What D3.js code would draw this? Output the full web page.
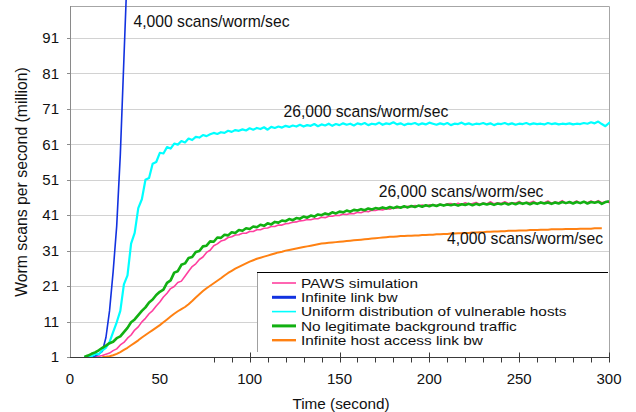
<!DOCTYPE html>
<html>
<head>
<meta charset="utf-8">
<script src="https://cdn.jsdelivr.net/npm/d3@7"></script>
<style>
  html, body { margin: 0; padding: 0; background: #fff; }
  svg { display: block; font-family: "Liberation Sans", Arial, sans-serif; }
</style>
</head>
<body>
<svg id="chart" width="636" height="412"></svg>
<script>
// ---- Data: worm scan rate (million scans/s), sampled every 2 seconds ----
const sampleStep = 2;

const seriesNames = [
  "PAWS simulation",
  "Infinite link bw",
  "Uniform distribution of vulnerable hosts",
  "No legitimate background traffic",
  "Infinite host access link bw"
];

// first sample time (s) of each series
const pawsStart = 14;
const infLinkStart = 10;
const uniformStart = 8;
const noBgStart = 8;
const infAccessStart = 18;

const pawsValues = [
  1.0, 1.2, 1.4, 1.8, 2.1, 2.8, 3.3, 4.4, 5.1, 6.3, 7.2, 8.6, 9.5, 10.9, 11.9, 13.2,
  14.1, 15.4, 16.5, 17.9, 19.0, 20.3, 20.9, 22.0, 22.4, 23.8, 25.2, 26.5, 27.3, 28.5,
  29.2, 30.5, 31.1, 32.4, 32.9, 33.7, 34.0, 34.7, 34.9, 35.4, 35.5, 35.9, 35.9, 36.4,
  36.4, 36.9, 36.9, 37.3, 37.4, 37.8, 37.8, 38.2, 38.2, 38.6, 38.7, 39.0, 39.1, 39.4,
  39.5, 39.8, 39.7, 40.0, 40.0, 40.4, 40.3, 40.7, 40.7, 41.0, 40.9, 41.3, 41.2, 41.5,
  41.4, 41.8, 41.7, 42.1, 42.0, 42.4, 42.3, 42.6, 42.5, 42.8, 42.7, 43.1, 43.0, 43.3,
  43.2, 43.5, 43.4, 43.7, 43.6, 43.9, 43.5, 43.9, 43.9, 43.7, 44.1, 43.8, 44.2, 44.3,
  43.9, 44.4, 44.0, 44.5, 44.1, 44.3, 44.6, 44.1, 44.4, 44.2, 44.8, 44.2, 44.5, 44.3,
  44.8, 44.3, 44.5, 44.4, 44.9, 44.3, 44.6, 44.5, 44.9, 44.3, 44.6, 44.5, 45.0, 44.4,
  44.7, 44.5, 45.1, 44.4, 44.6, 44.5, 45.0, 44.4, 44.8, 44.5, 45.0, 44.6, 45.1, 44.5,
  44.8, 44.6, 45.0, 44.8
];

const infLinkValues = [
  1.0, 1.05, 1.3, 1.8, 2.6, 6.5, 14, 25, 38, 58, 85, 112
];

const uniformValues = [
  1.0, 1.3, 1.2, 1.9, 1.8, 2.9, 3.6, 5.2, 8.0, 10.8, 14.0, 21.5, 24.0, 33.0, 36.0, 43.0,
  45.5, 51.0, 51.5, 55.5, 56.0, 58.6, 58.4, 60.2, 59.8, 61.2, 60.9, 61.9, 61.5, 62.6,
  62.2, 63.1, 62.9, 63.6, 63.3, 63.8, 64.2, 63.9, 64.4, 64.2, 64.8, 64.5, 65.0, 64.8,
  65.2, 64.9, 65.5, 65.1, 65.6, 65.3, 65.8, 65.1, 65.9, 65.6, 66.0, 65.7, 66.2, 65.9,
  66.3, 66.0, 66.5, 66.0, 66.4, 66.2, 66.7, 66.1, 66.6, 66.3, 66.8, 66.2, 66.7, 66.4,
  66.9, 66.5, 66.8, 66.3, 66.9, 66.6, 67.0, 66.4, 66.8, 66.6, 67.1, 66.5, 66.9, 66.7,
  67.2, 66.6, 66.9, 66.4, 66.8, 66.7, 67.0, 66.5, 66.9, 66.6, 67.1, 66.8, 66.5, 66.9,
  66.6, 67.0, 66.4, 66.8, 66.7, 67.1, 66.6, 66.9, 66.5, 66.8, 66.7, 67.0, 66.6, 66.9,
  66.4, 66.8, 66.7, 67.0, 66.6, 66.9, 66.5, 66.8, 66.7, 67.0, 66.6, 66.9, 66.7, 66.8,
  66.6, 67.0, 66.7, 66.9, 66.6, 66.8, 66.7, 66.9, 66.6, 66.8, 66.7, 67.0, 66.8, 67.2,
  66.9, 67.4, 66.7, 66.1, 67.0, 67.6
];

const noBgValues = [
  1.0, 1.4, 1.9, 2.3, 2.9, 3.6, 4.2, 4.9, 5.3, 6.3, 6.8, 8.0, 9.2, 10.8, 11.6, 12.8,
  14.0, 15.0, 16.4, 17.2, 18.5, 19.4, 20.0, 21.9, 22.6, 24.8, 25.2, 27.0, 27.4, 28.9,
  29.2, 30.6, 30.9, 32.2, 32.4, 33.6, 33.5, 34.7, 34.6, 35.5, 35.3, 36.2, 36.0, 36.8,
  36.6, 37.3, 37.1, 37.8, 37.6, 38.3, 38.0, 38.7, 38.4, 39.1, 38.9, 39.5, 39.3, 39.9,
  39.6, 40.2, 40.0, 40.6, 40.3, 40.9, 40.6, 41.2, 41.0, 41.5, 41.2, 41.8, 41.5, 42.0,
  41.8, 42.3, 42.0, 42.5, 42.3, 42.7, 42.4, 42.9, 42.6, 43.0, 42.8, 43.2, 42.9, 43.3,
  43.0, 43.4, 43.1, 43.5, 43.2, 43.6, 43.3, 43.7, 43.4, 43.8, 43.5, 43.9, 43.6, 44.0,
  43.7, 44.0, 43.8, 44.1, 43.7, 44.1, 43.9, 44.2, 43.8, 44.2, 43.9, 44.3, 44.0, 44.3,
  43.9, 44.3, 44.1, 44.4, 44.0, 44.4, 44.1, 44.5, 44.2, 44.5, 44.1, 44.5, 44.2, 44.6,
  44.3, 44.6, 44.2, 44.6, 44.3, 44.7, 44.4, 44.7, 44.3, 44.7, 44.4, 44.8, 44.3, 44.7,
  44.5, 44.8, 44.2, 44.7, 44.9
];

const infAccessValues = [
  1.0, 1.05, 1.2, 1.5, 1.9, 2.4, 3.0, 3.6, 4.3, 5.0, 5.7, 6.5, 7.2, 7.9, 8.6, 9.3,
  10.0, 10.8, 11.6, 12.4, 13.2, 13.9, 14.5, 15.1, 15.9, 16.8, 17.8, 18.7, 19.6, 20.4,
  21.1, 21.8, 22.5, 23.2, 24.0, 24.7, 25.3, 25.9, 26.4, 26.9, 27.4, 27.9, 28.3, 28.7,
  29.0, 29.3, 29.6, 29.9, 30.2, 30.5, 30.7, 31.0, 31.2, 31.4, 31.6, 31.8, 32.0, 32.2,
  32.4, 32.6, 32.8, 33.0, 33.1, 33.2, 33.3, 33.4, 33.5, 33.6, 33.7, 33.8, 33.9, 34.0,
  34.1, 34.2, 34.3, 34.4, 34.5, 34.6, 34.7, 34.8, 34.9, 34.9, 35.0, 35.1, 35.1, 35.2,
  35.2, 35.3, 35.3, 35.4, 35.4, 35.5, 35.5, 35.6, 35.6, 35.7, 35.7, 35.8, 35.8, 35.9,
  35.9, 36.0, 36.0, 36.1, 36.1, 36.2, 36.2, 36.3, 36.3, 36.4, 36.4, 36.5, 36.5, 36.6,
  36.6, 36.6, 36.7, 36.7, 36.7, 36.8, 36.8, 36.8, 36.9, 36.9, 36.9, 37.0, 37.0, 37.0,
  37.0, 37.1, 37.1, 37.1, 37.1, 37.2, 37.2, 37.2, 37.2, 37.3, 37.3, 37.3
];

const seriesColors = ["#ff3f9f", "#1232e0", "#00ffff", "#12b012", "#ff8112"];
const seriesWidths = [1.6, 1.6, 2.2, 2.6, 2.0];
const legendWidths = [1.6, 3.0, 1.6, 3.0, 2.4];

const xTickLabels = [0, 50, 100, 150, 200, 250, 300];
const xMajorTicks = [100, 150, 200, 250, 300];
const xMinorTicks = [80, 90, 110, 120, 130, 140, 160, 170, 180, 190, 210, 220, 230, 240, 260, 270, 280, 290];
const yTickLabels = [1, 11, 21, 31, 41, 51, 61, 71, 81, 91];

const annotations = [
  { text: "4,000 scans/worm/sec", t: 35.3, v: 94.0 },
  { text: "26,000 scans/worm/sec", t: 118.8, v: 68.7 },
  { text: "26,000 scans/worm/sec", t: 171.8, v: 46.1 },
  { text: "4,000 scans/worm/sec", t: 209.8, v: 32.8 }
];

// ---- Layout ----
const svg = d3.select("#chart");
const x = d3.scaleLinear().domain([0, 300]).range([70, 609]);
const y = d3.scaleLinear().domain([1, 100]).range([357, 6]);
const plotLeft = x(0), plotRight = x(300), plotTop = y(100), plotBottom = y(1);

// horizontal gridlines
svg.append("g").selectAll("line").data(yTickLabels.slice(1)).join("line")
  .attr("x1", plotLeft).attr("x2", plotRight)
  .attr("y1", d => Math.round(y(d)) + 0.5).attr("y2", d => Math.round(y(d)) + 0.5)
  .attr("stroke", "#d2d2d2").attr("stroke-width", 1);

// plot frame (top and right)
svg.append("path")
  .attr("d", `M${plotLeft},${Math.round(plotTop) + 0.5}H${Math.round(plotRight) + 0.5}V${plotBottom}`)
  .attr("fill", "none").attr("stroke", "#a6a6a6").attr("stroke-width", 1);

// series lines
const clipId = "plotClip";
svg.append("clipPath").attr("id", clipId).append("rect")
  .attr("x", plotLeft).attr("y", 0).attr("width", plotRight - plotLeft + 1).attr("height", plotBottom);

const seriesData = [
  { start: pawsStart, values: pawsValues },
  { start: infLinkStart, values: infLinkValues },
  { start: uniformStart, values: uniformValues },
  { start: noBgStart, values: noBgValues },
  { start: infAccessStart, values: infAccessValues }
];

const line = d3.line()
  .x(d => x(d[0]))
  .y(d => y(d[1]));

const gLines = svg.append("g").attr("clip-path", `url(#${clipId})`);
seriesData.forEach((s, i) => {
  const pts = s.values.map((v, k) => [s.start + k * sampleStep, v]);
  gLines.append("path")
    .datum(pts)
    .attr("d", line)
    .attr("fill", "none")
    .attr("stroke", seriesColors[i])
    .attr("stroke-width", seriesWidths[i])
    .attr("stroke-linejoin", "round");
});

// annotations
svg.append("g").selectAll("text").data(annotations).join("text")
  .attr("x", d => x(d.t)).attr("y", d => y(d.v))
  .attr("font-size", "15.7px").attr("fill", "#111")
  .text(d => d.text);

// legend
const legX = 257, legY = 272, legW = plotRight - legX, legH = 84;
const leg = svg.append("g");
leg.append("rect").attr("x", legX).attr("y", legY).attr("width", legW).attr("height", legH)
  .attr("fill", "#fff");
leg.append("line").attr("x1", legX + 0.5).attr("x2", legX + 0.5).attr("y1", legY).attr("y2", 352)
  .attr("stroke", "#a0a0a0");
leg.append("line").attr("x1", legX).attr("x2", plotRight - 1).attr("y1", legY + 0.5).attr("y2", legY + 0.5)
  .attr("stroke", "#000");
const rowH = 14.3;
seriesNames.forEach((name, i) => {
  const cy = 283 + i * rowH;
  leg.append("line").attr("x1", 272).attr("x2", 296).attr("y1", cy).attr("y2", cy)
    .attr("stroke", seriesColors[i]).attr("stroke-width", legendWidths[i]);
  // compact, slightly widened type so the tightly packed rows stay apart
  leg.append("text")
    .attr("transform", `translate(301,${cy + 4.6}) scale(1.24,1)`)
    .attr("font-size", "12.4px").attr("fill", "#111").text(name);
});

// y axis
svg.append("line").attr("x1", plotLeft + 0.5).attr("x2", plotLeft + 0.5).attr("y1", plotTop).attr("y2", plotBottom)
  .attr("stroke", "#8a8a8a");
svg.append("g").selectAll("line").data(yTickLabels).join("line")
  .attr("x1", plotLeft - 3).attr("x2", plotLeft)
  .attr("y1", d => Math.round(y(d)) + 0.5).attr("y2", d => Math.round(y(d)) + 0.5)
  .attr("stroke", "#8a8a8a");
svg.append("g").selectAll("text").data(yTickLabels).join("text")
  .attr("x", 59).attr("y", d => y(d) + 5.3)
  .attr("text-anchor", "end").attr("font-size", "15px").attr("fill", "#111")
  .text(d => d);

// x axis
const xAxisY = Math.round(plotBottom) + 0.5;
svg.append("line").attr("x1", plotLeft).attr("x2", plotRight + 1).attr("y1", xAxisY).attr("y2", xAxisY)
  .attr("stroke", "#3a3a3a");
svg.append("g").selectAll("line").data(xMinorTicks).join("line")
  .attr("x1", d => Math.round(x(d)) + 0.5).attr("x2", d => Math.round(x(d)) + 0.5)
  .attr("y1", xAxisY).attr("y2", xAxisY + 5)
  .attr("stroke", "#3a3a3a");
svg.append("g").selectAll("line").data(xMajorTicks).join("line")
  .attr("x1", d => Math.round(x(d)) + 0.5).attr("x2", d => Math.round(x(d)) + 0.5)
  .attr("y1", xAxisY - 5).attr("y2", xAxisY + 5)
  .attr("stroke", "#3a3a3a");
svg.append("g").selectAll("text").data(xTickLabels).join("text")
  .attr("x", d => x(d)).attr("y", 383.5)
  .attr("text-anchor", "middle").attr("font-size", "15px").attr("fill", "#111")
  .text(d => d);

// axis titles
svg.append("text").attr("x", 341).attr("y", 408.5)
  .attr("text-anchor", "middle").attr("font-size", "15.3px").attr("fill", "#111")
  .text("Time (second)");
svg.append("text")
  .attr("transform", "translate(27,182) rotate(-90)")
  .attr("text-anchor", "middle").attr("font-size", "15.8px").attr("fill", "#111")
  .text("Worm scans per second (million)");
</script>
</body>
</html>
